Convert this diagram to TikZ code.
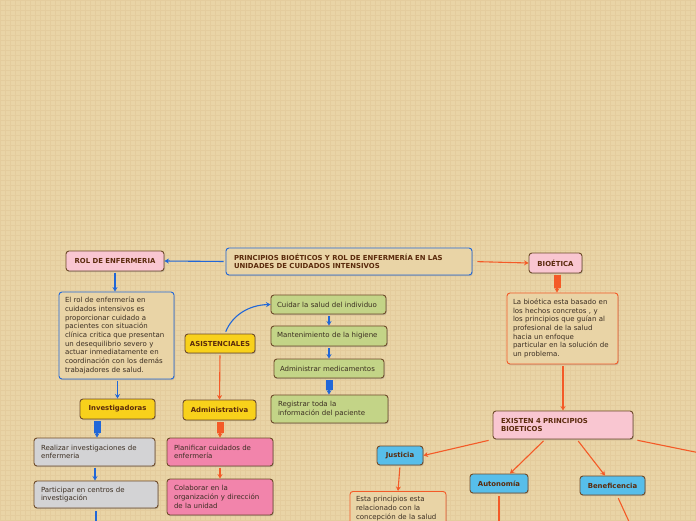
\documentclass[tikz,border=0pt]{standalone}
\usepackage{fontspec}
\setmainfont{DejaVu Sans}
\usepackage{tikz}
\usetikzlibrary{shadows,arrows.meta}

\definecolor{paper}{HTML}{E9D4A6}
\definecolor{paperline}{HTML}{E4CC9D}
\definecolor{linkblue}{HTML}{2167D8}
\definecolor{linkorange}{HTML}{F45A27}
\definecolor{rim}{HTML}{6E4B2A}
\definecolor{labeltext}{HTML}{5A2A0C}
\definecolor{bodytext}{HTML}{3B2E22}
\definecolor{softpink}{HTML}{F9C6D1}
\definecolor{hotpink}{HTML}{F284AB}
\definecolor{sunyellow}{HTML}{F8D11B}
\definecolor{sage}{HTML}{C3D487}
\definecolor{ash}{HTML}{D3D3D5}
\definecolor{sky}{HTML}{57BEEA}

\newcommand{\notefont}{\fontsize{7}{8.7}\selectfont\hyphenpenalty=10000\relax}
\newcommand{\tagfont}{\fontsize{6.9}{8.3}\selectfont\bfseries}

\begin{document}
\begin{tikzpicture}[x=1pt,y=-1pt,
        box/.style={rounded corners=3pt, draw=rim, line width=0.9pt, inner sep=0pt,
                drop shadow={shadow xshift=0.8pt, shadow yshift=-1.2pt, opacity=0.35}},
        tag/.style={box, font=\tagfont, text=labeltext},
        note/.style={box, font=\notefont, text=bodytext, align=left},
        tip/.style={-{Stealth[length=4.5pt,width=5pt]}},
        bluelink/.style={draw=linkblue, line width=1.1pt, tip, shorten <=2pt},
        orangelink/.style={draw=linkorange, line width=1.1pt, tip, shorten <=2pt},
        fatblue/.style={draw=linkblue, line width=7pt, shorten <=2pt, shorten >=5pt,
                postaction={draw=linkblue, line width=1.1pt, tip, shorten <=6pt, shorten >=0pt}},
        fatorange/.style={draw=linkorange, line width=7pt, shorten <=2pt, shorten >=5pt,
                postaction={draw=linkorange, line width=1.1pt, tip, shorten <=6pt, shorten >=0pt}}]
        \useasboundingbox (0,0) rectangle (696,520);
        \fill[paper] (0,0) rectangle (696,520);
        \draw[paperline, line width=0.25pt, step=5pt] (0,520) grid (696,0);

        \node[tag, fill=paper, draw=linkblue, align=left, minimum width=246pt, minimum height=27pt, text width=230pt] (main) at (349,261.5) {PRINCIPIOS BIOÉTICOS Y ROL DE ENFERMERÍA EN LAS\\UNIDADES DE CUIDADOS INTENSIVOS};
        \node[tag, fill=softpink, minimum width=98pt, minimum height=20pt] (rol) at (115,261) {ROL DE ENFERMERIA};
        \node[tag, fill=softpink, minimum width=53pt, minimum height=20pt] (bio) at (555.5,263) {BIOÉTICA};

        \node[note, fill=paper, draw=linkblue, minimum width=115pt, minimum height=87pt, text width=103pt] (roldesc) at (116.5,335.5) {El rol de enfermería en\\cuidados intensivos es\\proporcionar cuidado a\\pacientes con situación\\clínica critica que presentan\\un desequilibrio severo y\\actuar inmediatamente en\\coordinación con los demás\\trabajadores de salud.};
        \node[note, fill=paper, draw=linkorange, minimum width=111pt, minimum height=71pt, text width=99pt] (biodesc) at (562.5,328.5) {La bioética esta basado en\\los hechos concretos , y\\los principios que guían al\\profesional de la salud\\hacia un enfoque\\particular en la solución de\\un problema.};

        \node[tag, fill=sunyellow, minimum width=70pt, minimum height=19pt] (asis) at (220,343.5) {ASISTENCIALES};
        \node[tag, fill=sunyellow, minimum width=73pt, minimum height=20pt] (admva) at (219.5,410) {Administrativa};
        \node[tag, fill=sunyellow, minimum width=75pt, minimum height=20pt] (inv) at (117.5,409) {Investigadoras};

        \node[note, fill=sage, minimum width=115pt, minimum height=19pt, text width=103pt] (cuid) at (328.5,304.5) {Cuidar la salud del individuo};
        \node[note, fill=sage, minimum width=116pt, minimum height=20pt, text width=104pt] (mant) at (329,336) {Mantenimiento de la higiene};
        \node[note, fill=sage, minimum width=110pt, minimum height=19pt, text width=98pt] (admmed) at (329,368.5) {Administrar medicamentos};
        \node[note, fill=sage, minimum width=117pt, minimum height=28pt, text width=103pt] (reg) at (329.5,409) {Registrar toda la\\información del paciente};

        \node[note, fill=ash, minimum width=121pt, minimum height=28pt, text width=107pt] (realiz) at (94.5,452) {Realizar investigaciones de\\enfermeria};
        \node[note, fill=ash, minimum width=124pt, minimum height=27pt, text width=110pt] (partic) at (96,494.5) {Participar en centros de\\investigación};
        \node[note, fill=hotpink, minimum width=106pt, minimum height=28pt, text width=92pt] (planif) at (220,452) {Planificar cuidados de\\enfermería};
        \node[note, fill=hotpink, minimum width=106pt, minimum height=36pt, text width=92pt] (colab) at (220,497) {Colaborar en la\\organización y dirección\\de la unidad};

        \node[tag, fill=softpink, align=left, minimum width=140pt, minimum height=28pt, text width=124pt] (existen) at (563,425) {EXISTEN 4 PRINCIPIOS\\BIOETICOS};
        \node[tag, fill=sky, minimum width=46pt, minimum height=19pt] (just) at (400,455.5) {Justicia};
        \node[tag, fill=sky, minimum width=58pt, minimum height=19pt] (auto) at (499,483.5) {Autonomía};
        \node[tag, fill=sky, minimum width=65pt, minimum height=19pt] (benef) at (612.5,485.5) {Beneficencia};
        \node[note, fill=paper, draw=linkorange, anchor=north, minimum width=96pt, text width=84pt, inner ysep=5pt] (estap) at (398,491) {Esta principios esta\\relacionado con la\\concepción de la salud\\[20pt]~};

        \coordinate (particdown) at (96,526);
        \coordinate (autodown) at (499,526);
        \coordinate (benefdown) at (631,526);
        \coordinate (offright) at (700,453);

        \draw[bluelink] (main.west) -- (rol.east);
        \draw[orangelink, shorten <=5pt] (main.east) -- (bio.west);
        \draw[bluelink] (rol.south) -- (rol.south |- roldesc.north);
        \draw[bluelink] (roldesc.south -| inv.north) -- (inv.north);
        \draw[fatblue] (inv.south -| 97,0) -- (realiz.north -| 97,0);
        \draw[bluelink] (realiz.south -| 95,0) -- (partic.north -| 95,0);
        \draw[draw=linkblue, line width=1.1pt, shorten <=3pt] (partic.south -| particdown) -- (particdown);

        \draw[bluelink] ([xshift=5pt]asis.north) .. controls (232,316) and (248,305) .. (cuid.west);
        \draw[orangelink] (asis.south) -- (admva.north);
        \draw[fatorange] (admva.south -| 220,0) -- (planif.north -| 220,0);
        \draw[orangelink] (planif.south -| 220,0) -- (colab.north -| 220,0);
        \draw[bluelink] (cuid.south -| 329,0) -- (mant.north -| 329,0);
        \draw[bluelink] (mant.south -| 329,0) -- (admmed.north -| 329,0);
        \draw[fatblue] (admmed.south -| 329,0) -- (reg.north -| 329,0);

        \draw[fatorange] (bio.south -| 557,0) -- (biodesc.north -| 557,0);
        \draw[orangelink] (biodesc.south -| existen.north) -- (existen.north);
        \draw[orangelink, shorten <=4pt] (existen.south west) -- (just.east);
        \draw[orangelink] ([xshift=-18pt]existen.south) -- ([xshift=11pt]auto.north);
        \draw[orangelink] ([xshift=14pt]existen.south) -- ([xshift=-7.5pt]benef.north);
        \draw[draw=linkorange, line width=1.1pt, shorten <=4pt] (existen.south east) -- (offright);
        \draw[orangelink] (just.south) -- (estap.north);
        \draw[draw=linkorange, line width=1.1pt, shorten <=3pt] (auto.south) -- (autodown);
        \draw[draw=linkorange, line width=1.1pt, shorten <=3pt] ([xshift=4.5pt]benef.south) -- (benefdown);
\end{tikzpicture}
\end{document}
